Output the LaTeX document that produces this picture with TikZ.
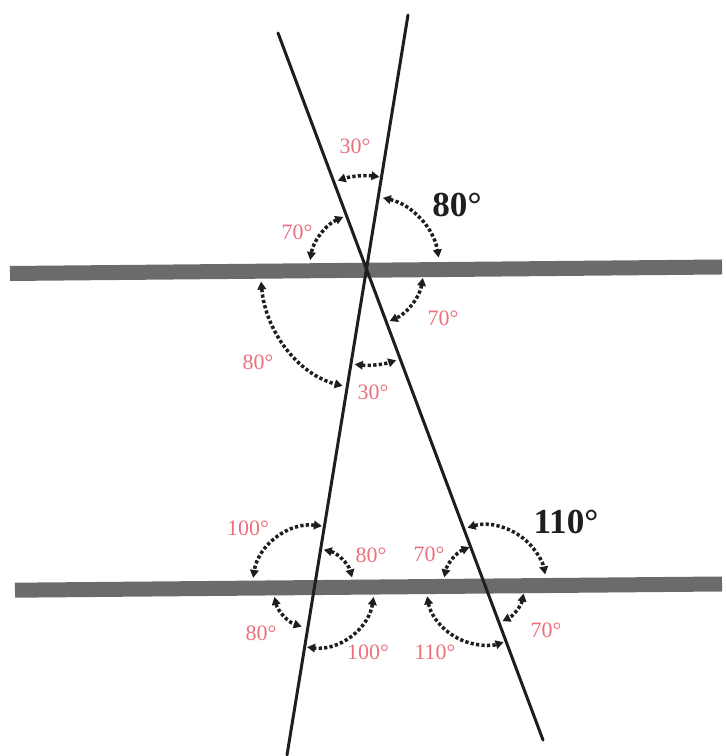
\documentclass[tikz,border=0pt]{standalone}
\usepackage{fontspec}
\setmainfont{Liberation Serif}
\usetikzlibrary{arrows.meta}
\definecolor{cpink}{HTML}{EC6F7C}
\definecolor{cbar}{HTML}{6B6B6B}
\definecolor{cink}{HTML}{1E1E1E}
\tikzset{
  every picture/.style={x=0.02cm, y=0.02cm},
  trans/.style={draw=cink, line width=0.06cm, line cap=round},
  bar/.style={draw=cbar, line width=0.3cm},
  angarrow/.style={{Triangle[length=1.6mm, width=1.7mm]}-{Triangle[length=1.6mm, width=1.7mm]}, draw=cink, line width=0.07cm, dash pattern=on 0.065cm off 0.045cm},
  lbl/.style={text=cpink, font=\fontsize{12.5}{14}\selectfont, inner sep=0pt},
  big/.style={text=cink, font=\fontsize{20}{24}\selectfont\bfseries, inner sep=0pt},
}
\begin{document}
\begin{tikzpicture}
  \useasboundingbox (0,0) rectangle (725,756);
  \coordinate (a1) at (408,741); \coordinate (a2) at (287,1);
  \coordinate (b1) at (278,723); \coordinate (b2) at (543,16);
  \coordinate (u1) at (10,482.5); \coordinate (u2) at (722,489);
  \coordinate (l1) at (15,165.8); \coordinate (l2) at (722,172);
  \coordinate (X) at (intersection of a1--a2 and b1--b2);
  \coordinate (QA) at (intersection of a1--a2 and l1--l2);
  \coordinate (QB) at (intersection of b1--b2 and l1--l2);
  % parallels and transversals
  \draw[bar] (u1) -- (u2);
  \draw[bar] (l1) -- (l2);
  \draw[trans] (a1) -- (a2);
  \draw[trans] (b1) -- (b2);
  % angle arcs
  \foreach \c/\s/\e/\r in {X/82/108/93, X/77/9/73, X/114/171/57, X/-9/-66/57, X/263/288/96,
      QA/83/171/62, QA/76/15/39, QA/193/252/41, QA/-9/-97/60,
      QB/107/11/61, QB/112/168/42, QB/-11/-64/39, QB/190/288/59}
    \draw[angarrow] ([shift={(\s:\r)}]\c) arc[start angle=\s, end angle=\e, radius=\r];
  \draw[angarrow] ([shift={(186:106 and 120)}]X) arc[start angle=186, end angle=257, x radius=106, y radius=120];
  % labels
  \foreach \px/\py/\t in {355/610/30, 297/524/70, 443/438/70, 258/394/80, 373/364/30,
      248/228/100, 371/201/80, 429/202/70, 261/123/80, 368/104/100, 435/104/110, 546/126/70}
    \node[lbl] (n\px) at (\px,\py) {\t°};
  \node[big] (b80) at (457,551) {80°};
  \node[big] (b110) at (566,234) {110°};
\end{tikzpicture}
\end{document}
